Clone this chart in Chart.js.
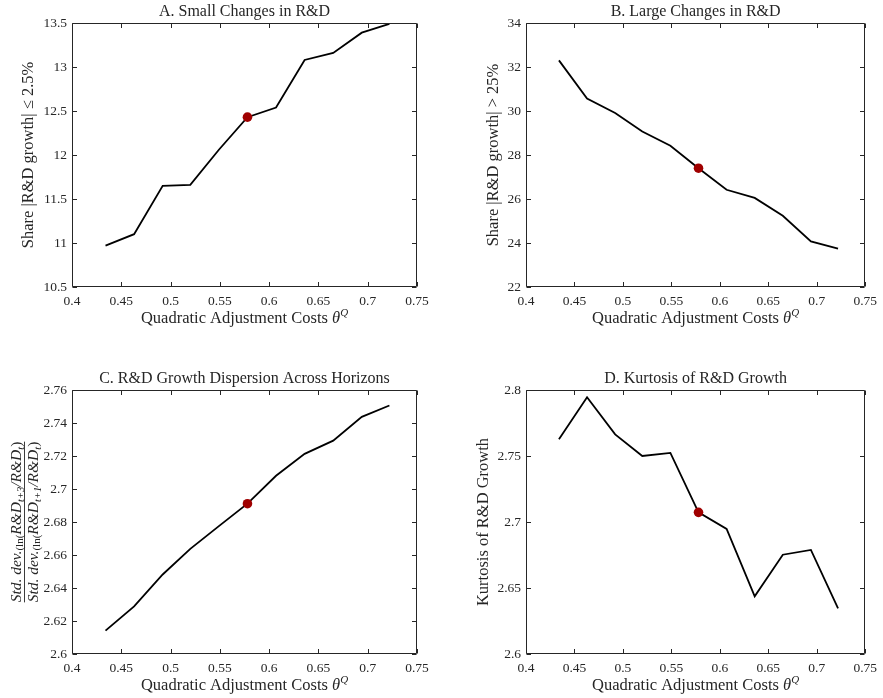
<!DOCTYPE html>
<html><head><meta charset="utf-8">
<script src="https://cdn.jsdelivr.net/npm/chart.js@4.4.1/dist/chart.umd.min.js"></script>
<style>
html,body{margin:0;padding:0;background:#fff;}
#wrap{position:relative;width:883px;height:698px;overflow:hidden;background:#fff;}
#wrap canvas{position:absolute;left:0;top:0;}
</style></head><body>
<div id="wrap">
<canvas id="cA" width="883" height="698"></canvas>
<canvas id="cB" width="883" height="698"></canvas>
<canvas id="cC" width="883" height="698"></canvas>
<canvas id="cD" width="883" height="698"></canvas>
</div>
<script>
// ---------------- DATA ----------------
const thetaQ = [0.434, 0.463, 0.492, 0.520, 0.549, 0.578, 0.607, 0.636, 0.665, 0.694, 0.722];
const benchmarkIndex = 5;
const smallShare = [10.97, 11.10, 11.65, 11.66, 12.06, 12.43, 12.54, 13.08, 13.16, 13.39, 13.49];
const largeShare = [32.30, 30.57, 29.91, 29.07, 28.42, 27.40, 26.42, 26.05, 25.24, 24.07, 23.74];
const dispersionRatio = [2.6142, 2.6289, 2.6482, 2.6637, 2.6775, 2.6911, 2.7080, 2.7213, 2.7293, 2.7437, 2.7506];
const kurtosis = [2.7627, 2.7945, 2.7664, 2.7500, 2.7523, 2.7073, 2.6947, 2.6437, 2.6752, 2.6788, 2.6346];

const xTicks = [0.4, 0.45, 0.5, 0.55, 0.6, 0.65, 0.7, 0.75];
const xTickLabels = ['0.4', '0.45', '0.5', '0.55', '0.6', '0.65', '0.7', '0.75'];
const yTicksA = [10.5, 11, 11.5, 12, 12.5, 13, 13.5];
const yTickLabelsA = ['10.5', '11', '11.5', '12', '12.5', '13', '13.5'];
const yTicksB = [22, 24, 26, 28, 30, 32, 34];
const yTickLabelsB = ['22', '24', '26', '28', '30', '32', '34'];
const yTicksC = [2.6, 2.62, 2.64, 2.66, 2.68, 2.7, 2.72, 2.74, 2.76];
const yTickLabelsC = ['2.6', '2.62', '2.64', '2.66', '2.68', '2.7', '2.72', '2.74', '2.76'];
const yTicksD = [2.6, 2.65, 2.7, 2.75, 2.8];
const yTickLabelsD = ['2.6', '2.65', '2.7', '2.75', '2.8'];

const panelTitles = ['A. Small Changes in R&D', 'B. Large Changes in R&D',
                     'C. R&D Growth Dispersion Across Horizons', 'D. Kurtosis of R&D Growth'];
const xAxisTitle = 'Quadratic Adjustment Costs ';

// ---------------- STYLE ----------------
const FONT = "'Liberation Serif', 'Times New Roman', serif";
const AXIS_COLOR = '#262626';
const W = 883, H = 698;

function drawRich(ctx, segs, cx, cy, rotate) {
  ctx.save();
  ctx.translate(cx, cy);
  if (rotate) ctx.rotate(-Math.PI / 2);
  let total = 0;
  segs.forEach(s => {
    ctx.font = (s.i ? 'italic ' : '') + s.s + 'px ' + FONT;
    s.w = ctx.measureText(s.t).width;
    total += s.w;
  });
  let x = -total / 2;
  ctx.textAlign = 'left';
  ctx.textBaseline = 'alphabetic';
  ctx.fillStyle = AXIS_COLOR;
  const base = segs[0].s * 0.33;
  segs.forEach(s => {
    ctx.font = (s.i ? 'italic ' : '') + s.s + 'px ' + FONT;
    ctx.fillText(s.t, x, base + (s.dy || 0));
    x += s.w;
  });
  ctx.restore();
  return total;
}

function measureRich(ctx, segs) {
  let total = 0;
  segs.forEach(s => {
    ctx.font = (s.i ? 'italic ' : '') + s.s + 'px ' + FONT;
    total += ctx.measureText(s.t).width;
  });
  return total;
}

const decoPlugin = {
  id: 'panelDeco',
  afterDatasetsDraw(chart, args, o) {
    const { ctx, chartArea: a, scales: { x, y } } = chart;
    ctx.save();
    ctx.strokeStyle = AXIS_COLOR;
    ctx.lineWidth = 1;
    const L = Math.round(a.left) + 0.5, R = Math.round(a.right) - 0.5;
    const T = Math.round(a.top) + 0.5, B = Math.round(a.bottom) - 0.5;
    ctx.beginPath();
    ctx.rect(L, T, R - L, B - T);
    const tl = 4.5;
    x.ticks.forEach(t => {
      const px = Math.round(x.getPixelForValue(t.value)) + 0.5;
      ctx.moveTo(px, B); ctx.lineTo(px, B - tl);
      ctx.moveTo(px, T); ctx.lineTo(px, T + tl);
    });
    y.ticks.forEach(t => {
      const py = Math.round(y.getPixelForValue(t.value)) + 0.5;
      ctx.moveTo(L, py); ctx.lineTo(L + tl, py);
      ctx.moveTo(R, py); ctx.lineTo(R - tl, py);
    });
    ctx.stroke();

    const cx = (a.left + a.right) / 2, cy = (a.top + a.bottom) / 2;
    // title
    ctx.fillStyle = AXIS_COLOR;
    ctx.font = '16px ' + FONT;
    ctx.textAlign = 'center';
    ctx.textBaseline = 'middle';
    ctx.fillText(o.title, cx, a.top - 11);
    // x title
    drawRich(ctx, [
      { t: xAxisTitle, s: 16.5 },
      { t: 'θ', s: 16.5, i: true },
      { t: 'Q', s: 11, i: true, dy: -7 }
    ], cx, a.bottom + 31, false);
    // y title
    if (o.fraction) {
      ctx.save();
      const wn = measureRich(ctx, o.fraction.num), wd = measureRich(ctx, o.fraction.den);
      ctx.translate(o.yTitleX, cy);
      ctx.rotate(-Math.PI / 2);
      drawRich(ctx, o.fraction.num, 0, -8, false);
      drawRich(ctx, o.fraction.den, 0, 8.5, false);
      ctx.strokeStyle = AXIS_COLOR;
      ctx.lineWidth = 0.9;
      const bw = Math.max(wn, wd);
      ctx.beginPath();
      ctx.moveTo(-bw / 2, 0.5); ctx.lineTo(bw / 2, 0.5);
      ctx.stroke();
      ctx.restore();
    } else {
      drawRich(ctx, o.yTitle, o.yTitleX, cy, true);
    }
    ctx.restore();
  }
};

function makeChart(id, values, yTicks, yLabels, area, deco) {
  const tickFont = { family: FONT, size: 13.5 };
  return new Chart(document.getElementById(id), {
    type: 'scatter',
    data: {
      datasets: [
        {
          data: thetaQ.map((t, i) => ({ x: t, y: values[i] })),
          showLine: true, borderColor: '#000000', borderWidth: 1.8,
          pointRadius: 0, clip: false, order: 2, tension: 0
        },
        {
          data: [{ x: thetaQ[benchmarkIndex], y: values[benchmarkIndex] }],
          showLine: false, pointRadius: 4.8, pointBackgroundColor: '#a00000',
          pointBorderColor: '#a00000', pointBorderWidth: 0, clip: false, order: 1
        }
      ]
    },
    options: {
      responsive: false, animation: false, events: [],
      layout: { padding: { left: 0, top: area.top, right: W - area.right, bottom: 0 } },
      scales: {
        x: {
          type: 'linear', min: xTicks[0], max: xTicks[xTicks.length - 1],
          afterBuildTicks: s => { s.ticks = xTicks.map(v => ({ value: v })); },
          afterFit: s => { s.height = H - area.bottom; },
          ticks: { callback: (v, i) => xTickLabels[i], font: tickFont, color: AXIS_COLOR,
                   padding: 6, maxRotation: 0, autoSkip: false },
          grid: { display: false, drawTicks: false }, border: { display: false }
        },
        y: {
          type: 'linear', min: yTicks[0], max: yTicks[yTicks.length - 1],
          afterBuildTicks: s => { s.ticks = yTicks.map(v => ({ value: v })); },
          afterFit: s => { s.width = area.left; },
          ticks: { callback: (v, i) => yLabels[i], font: tickFont, color: AXIS_COLOR,
                   padding: 5, autoSkip: false },
          grid: { display: false, drawTicks: false }, border: { display: false }
        }
      },
      plugins: { legend: { display: false }, tooltip: { enabled: false }, panelDeco: deco }
    },
    plugins: [decoPlugin]
  });
}

makeChart('cA', smallShare, yTicksA, yTickLabelsA,
  { left: 72, right: 417, top: 23, bottom: 287 },
  { title: panelTitles[0], yTitleX: 28,
    yTitle: [{ t: 'Share |R&D growth| ≤ 2.5%', s: 16.5 }] });

makeChart('cB', largeShare, yTicksB, yTickLabelsB,
  { left: 526, right: 871, top: 23, bottom: 287 },
  { title: panelTitles[1], yTitleX: 493,
    yTitle: [{ t: 'Share |R&D growth| > 25%', s: 16.5 }] });

makeChart('cC', dispersionRatio, yTicksC, yTickLabelsC,
  { left: 72, right: 417, top: 390, bottom: 654 },
  { title: panelTitles[2], yTitleX: 24,
    fraction: {
      num: [{ t: 'Std. dev.', s: 15.5, i: true }, { t: '(ln(', s: 11, dy: 2 },
            { t: 'R&D', s: 15.5, i: true }, { t: 't+3', s: 10.5, i: true, dy: 3 },
            { t: '/', s: 15.5, i: true }, { t: 'R&D', s: 15.5, i: true },
            { t: 't', s: 10.5, i: true, dy: 3 }, { t: ')', s: 15.5 }],
      den: [{ t: 'Std. dev.', s: 15.5, i: true }, { t: '(ln(', s: 11, dy: 2 },
            { t: 'R&D', s: 15.5, i: true }, { t: 't+1', s: 10.5, i: true, dy: 3 },
            { t: '/', s: 15.5, i: true }, { t: 'R&D', s: 15.5, i: true },
            { t: 't', s: 10.5, i: true, dy: 3 }, { t: ')', s: 15.5 }]
    } });

makeChart('cD', kurtosis, yTicksD, yTickLabelsD,
  { left: 526, right: 871, top: 390, bottom: 654 },
  { title: panelTitles[3], yTitleX: 483,
    yTitle: [{ t: 'Kurtosis of R&D Growth', s: 16.5 }] });
</script>
</body></html>
